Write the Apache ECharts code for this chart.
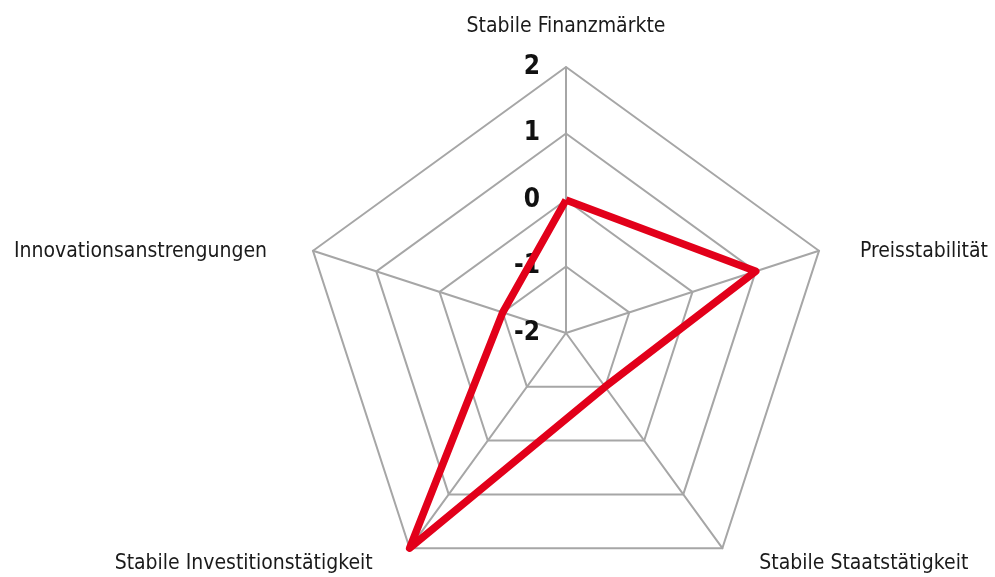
<!DOCTYPE html>
<html style="height:100%">
<head>
<meta charset="utf-8">
</head>
<body style="height:100%; margin: 0; background: #fff">
<div id="container" style="width: 995px; height: 577px"></div>
<script src="https://cdn.jsdelivr.net/npm/echarts@6.0.0/dist/echarts.min.js"></script>
<script type="text/javascript">
// clockwise from the top, as in the picture
var indicators = ['Stabile Finanzmärkte', 'Preisstabilität', 'Stabile Staatstätigkeit',
                  'Stabile Investitionstätigkeit', 'Innovationsanstrengungen'];
var values = [0, 1, -1, 2, -1];
var axisMin = -2;
var axisMax = 2;

// echarts lays the radar out counter-clockwise, so flip the order
var order = [0, 4, 3, 2, 1];
// per-name rich style key, to nudge the names like the original
var nameKeys = ['top', 'right', 'botR', 'botL', 'left'];

var fontFam = "'Liberation Sans Narrow', 'DejaVu Sans Condensed', sans-serif";
var chart = echarts.init(document.getElementById('container'));

var indicatorList = order.map(function (k, i) {
    var ind = { name: indicators[k], min: axisMin, max: axisMax };
    if (i === 0) {
        ind.axisLabel = {
            show: true,
            color: '#111',
            fontSize: 26,
            fontWeight: 'bold',
            fontFamily: fontFam,
            margin: 26
        };
    }
    return ind;
});

var nameStyle = { color: '#1a1a1a', fontSize: 21, fontFamily: fontFam };

chart.setOption({
    animation: false,
    radar: {
        center: [566, 333],
        radius: 266,
        startAngle: 90,
        shape: 'polygon',
        splitNumber: 4,
        indicator: indicatorList,
        axisName: {
            color: '#1a1a1a',
            fontSize: 21,
            fontFamily: fontFam,
            formatter: function (name) {
                var k = indicators.indexOf(name);
                return '{' + nameKeys[k] + '|' + name + '}';
            },
            rich: {
                top: Object.assign({ padding: [0, 0, 8, 0] }, nameStyle),
                right: Object.assign({ padding: [16, 0, 0, 20] }, nameStyle),
                left: Object.assign({ padding: [16, 25, 0, 0] }, nameStyle),
                botR: Object.assign({ padding: [0, 0, 4, 24] }, nameStyle),
                botL: Object.assign({ padding: [0, 24, 4, 0] }, nameStyle)
            }
        },
        nameGap: 22,
        axisLabel: { show: false },
        axisTick: { show: false },
        axisLine: { lineStyle: { color: '#a6a6a6', width: 2 } },
        splitLine: { lineStyle: { color: '#a6a6a6', width: 2 } },
        splitArea: { show: false }
    },
    series: [{
        type: 'radar',
        symbol: 'none',
        lineStyle: { color: '#e2001a', width: 7.5, join: 'round' },
        data: [{ value: order.map(function (k) { return values[k]; }) }]
    }]
});
</script>
</body>
</html>
